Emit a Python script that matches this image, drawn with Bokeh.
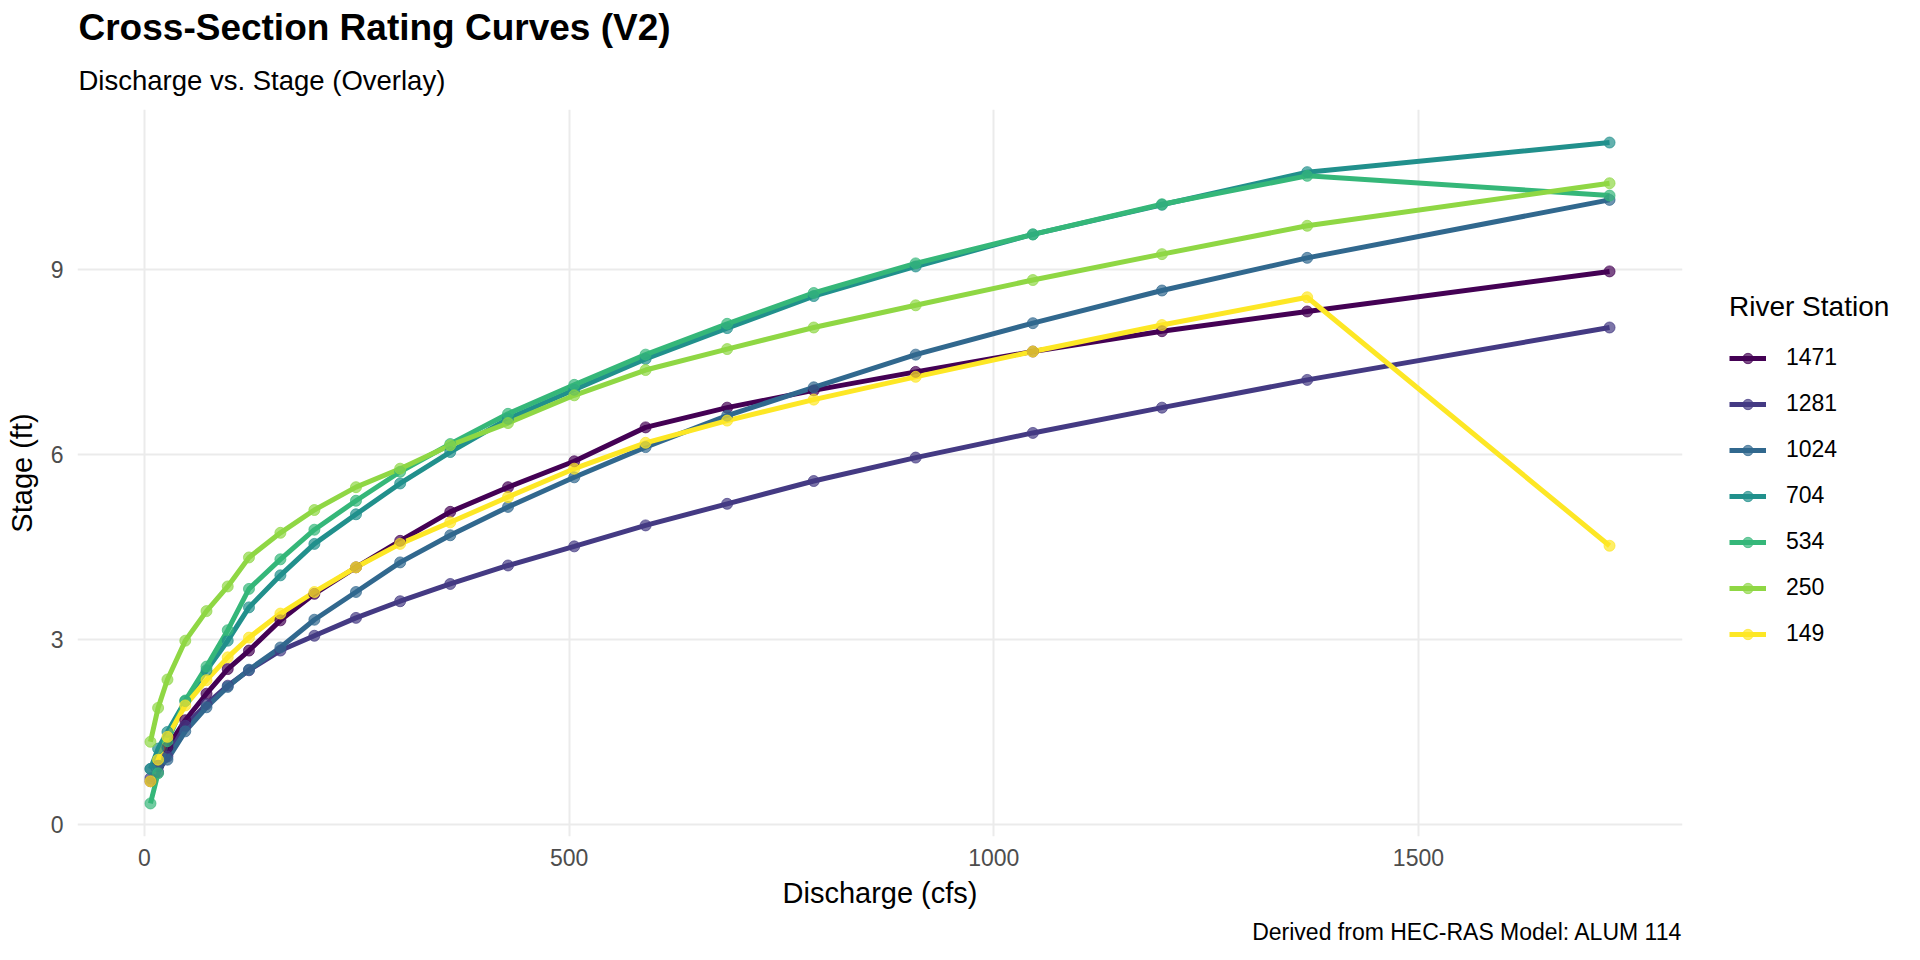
from bokeh.plotting import figure
from bokeh.models import Range1d, FixedTicker, Legend, LegendItem, Title
from bokeh.embed import file_html
from bokeh.resources import INLINE

# ---- data ----
discharge = [7, 16, 27, 48, 73, 98, 123, 160, 200, 249, 301, 360, 428, 506,
             590, 686, 788, 908, 1046, 1198, 1369, 1725]

stations = ["1471", "1281", "1024", "704", "534", "250", "149"]

stage_1471 = [0.70, 0.95, 1.25, 1.69, 2.12, 2.52, 2.82, 3.31, 3.74, 4.17, 4.60, 5.07,
              5.47, 5.89, 6.44, 6.76, 7.04, 7.34, 7.67, 8.00, 8.32, 8.97]
stage_1281 = [0.75, 0.85, 1.10, 1.60, 1.95, 2.25, 2.50, 2.82, 3.06, 3.35, 3.62, 3.90,
              4.20, 4.51, 4.85, 5.20, 5.57, 5.95, 6.35, 6.76, 7.21, 8.06]
stage_1024 = [0.90, 0.95, 1.05, 1.51, 1.90, 2.23, 2.51, 2.87, 3.32, 3.77, 4.25, 4.69,
              5.15, 5.63, 6.12, 6.63, 7.09, 7.62, 8.13, 8.66, 9.19, 10.13]
stage_704 = [0.90, 1.23, 1.50, 2.00, 2.50, 2.98, 3.52, 4.04, 4.55, 5.03, 5.53, 6.04,
             6.58, 7.05, 7.55, 8.05, 8.57, 9.05, 9.57, 10.05, 10.58, 11.06]
stage_534 = [0.34, 0.83, 1.35, 2.01, 2.56, 3.15, 3.82, 4.30, 4.78, 5.25, 5.72, 6.17,
             6.66, 7.13, 7.62, 8.12, 8.62, 9.10, 9.57, 10.06, 10.52, 10.20]
stage_250 = [1.34, 1.89, 2.35, 2.98, 3.46, 3.86, 4.33, 4.73, 5.10, 5.47, 5.77, 6.15,
             6.51, 6.96, 7.37, 7.71, 8.06, 8.42, 8.83, 9.25, 9.71, 10.40]
stage_149 = [0.70, 1.05, 1.42, 1.93, 2.34, 2.71, 3.03, 3.42, 3.77, 4.17, 4.55, 4.90,
             5.31, 5.77, 6.19, 6.55, 6.89, 7.26, 7.67, 8.10, 8.55, 4.52]

stage_series = [stage_1471, stage_1281, stage_1024, stage_704, stage_534, stage_250, stage_149]
colors = ["#440154", "#443A83", "#31688E", "#21908C", "#35B779", "#8FD744", "#FDE725"]

x_ticks = [0, 500, 1000, 1500]
y_ticks = [0, 3, 6, 9]

FONT = "Liberation Sans"

# ranges with 5% expansion (like ggplot)
xmin, xmax = min(discharge), max(discharge)
allstage = [v for s in stage_series for v in s]
ymin, ymax = min(allstage), max(allstage)
xpad = 0.05 * (xmax - xmin)
ypad = 0.05 * (ymax - ymin)

FW, FH = 1605, 727
p = figure(frame_width=FW, frame_height=FH,
           x_range=Range1d(xmin - xpad, xmax + xpad),
           y_range=Range1d(ymin - ypad, ymax + ypad),
           output_backend="svg", toolbar_location=None, title=None,
           min_border_left=77, min_border_right=226,
           min_border_top=109, min_border_bottom=112)

p.outline_line_color = None
p.background_fill_color = "white"
p.border_fill_color = "white"

# grid
for g in (p.xgrid, p.ygrid):
    g.grid_line_color = "#EBEBEB"
    g.grid_line_width = 2
    g.minor_grid_line_color = None
p.xaxis.ticker = FixedTicker(ticks=x_ticks)
p.yaxis.ticker = FixedTicker(ticks=y_ticks)

for ax in (p.xaxis, p.yaxis):
    ax.axis_line_color = None
    ax.major_tick_line_color = None
    ax.minor_tick_line_color = None
    ax.major_tick_out = 0
    ax.major_tick_in = 0
    ax.major_label_text_font = FONT
    ax.major_label_text_font_size = "23px"
    ax.major_label_text_color = "#4D4D4D"
    ax.axis_label_text_font = FONT
    ax.axis_label_text_font_size = "29px"
    ax.axis_label_text_font_style = "normal"
    ax.axis_label_text_color = "black"

p.xaxis.axis_label = "Discharge (cfs)"
p.yaxis.axis_label = "Stage (ft)"
p.xaxis.major_label_standoff = 12
p.yaxis.major_label_standoff = 14
p.xaxis.axis_label_standoff = 8
p.yaxis.axis_label_standoff = 10

line_rs = []
for s, c in zip(stage_series, colors):
    line_rs.append(p.line(discharge, s, line_color=c, line_width=5))
pt_rs = []
for s, c in zip(stage_series, colors):
    pt_rs.append(p.scatter(discharge, s, size=11, fill_color=c, line_color=c,
                           fill_alpha=0.7, line_alpha=0.7))

items = [LegendItem(label=st, renderers=[lr, pr])
         for st, lr, pr in zip(stations, line_rs, pt_rs)]
legend = Legend(items=items, location=(47, 189))
legend.title = "River Station"
legend.title_text_font = FONT
legend.title_text_font_size = "28px"
legend.title_text_font_style = "normal"
legend.title_text_color = "black"
legend.title_standoff = 21
legend.label_text_font = FONT
legend.label_text_font_size = "23px"
legend.label_text_color = "black"
legend.glyph_width = 37
legend.glyph_height = 26
legend.label_height = 26
legend.label_standoff = 20
legend.spacing = 19
legend.padding = 0
legend.margin = 30
legend.border_line_color = None
legend.background_fill_alpha = 0
p.add_layout(legend, "right")

subtitle = Title(text="Discharge vs. Stage (Overlay)", text_font=FONT,
                 text_font_size="27.5px", text_font_style="normal",
                 text_color="black", align="left", offset=1, standoff=28)
main_title = Title(text="Cross-Section Rating Curves (V2)", text_font=FONT,
                   text_font_size="37px", text_font_style="bold",
                   text_color="black", align="left", offset=1, standoff=2)
p.add_layout(subtitle, "above")
p.add_layout(main_title, "above")

caption = Title(text="Derived from HEC-RAS Model: ALUM 114", text_font=FONT,
                text_font_size="23px", text_font_style="normal",
                text_color="black", align="right", standoff=10)
p.add_layout(caption, "below")

open("out.html", "w").write(file_html(p, INLINE))
